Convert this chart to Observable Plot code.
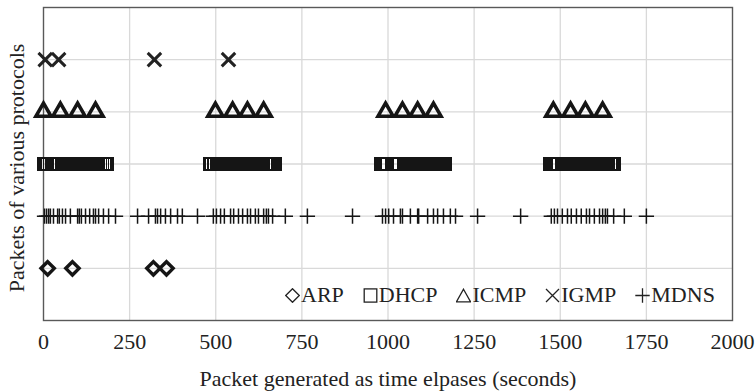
<!DOCTYPE html>
<html>
<head>
<meta charset="utf-8">
<script src="https://cdn.jsdelivr.net/npm/d3@7"></script>
<script src="https://cdn.jsdelivr.net/npm/@observablehq/plot@0.6"></script>
<style>
  html, body { margin: 0; padding: 0; background: #fff; }
  #wrap { position: relative; width: 756px; height: 391px; font-family: "Liberation Serif", "Times New Roman", serif; color: #222; }
  #legend { position: absolute; left: 285px; top: 284px; display: flex; gap: 19px; font-size: 22px; line-height: 22px; white-space: nowrap; }
  #legend .item { display: inline-flex; align-items: baseline; }
  #legend svg { vertical-align: baseline; margin-right: 1px; position: relative; top: 1px; }
</style>
</head>
<body>
<div id="wrap"><div id="legend"></div></div>
<script>
// ---- data ----
const protocols = ["ARP", "DHCP", "ICMP", "IGMP", "MDNS"];     // legend order
const rowOrder = ["ARP", "MDNS", "DHCP", "ICMP", "IGMP"];      // bottom to top
const xTicks = [0, 250, 500, 750, 1000, 1250, 1500, 1750, 2000];
const xTitle = "Packet generated as time elpases (seconds)";
const yTitle = "Packets of various protocols";

const arpTimes = [12, 84, 319, 357];
const igmpTimes = [5, 44, 322, 537];
const icmpTimes = [0, 49, 99, 151, 499, 549, 592, 639, 993, 1042, 1086, 1132, 1480, 1530, 1573, 1623];
const dhcpTimes = [
  0, 3, 8, 12, 17, 23, 26, 30, 35, 39, 44, 47, 52, 57, 60, 65, 69, 74, 78, 84, 88, 92, 97, 101, 106, 111, 114, 119, 124, 128, 133, 138, 141, 146, 150, 156, 160, 165, 171, 177, 182, 186,
  484, 488, 493, 497, 502, 507, 511, 516, 520, 525, 530, 533, 538, 543, 547, 552, 557, 561, 565, 570, 575, 580, 584, 589, 593, 598, 602, 607, 612, 616, 620, 625, 630, 634, 639, 644, 648, 653, 658, 663, 668, 672,
  980, 983, 988, 993, 997, 1011, 1015, 1020, 1025, 1029, 1033, 1047, 1052, 1056, 1061, 1066, 1070, 1075, 1079, 1084, 1088, 1093, 1098, 1102, 1106, 1111, 1116, 1120, 1125, 1129, 1134, 1139, 1143, 1148, 1152, 1157, 1162, 1166,
  1470, 1474, 1479, 1483, 1488, 1493, 1506, 1511, 1516, 1520, 1524, 1529, 1534, 1538, 1543, 1547, 1552, 1557, 1561, 1566, 1570, 1575, 1579, 1584, 1589, 1593, 1597, 1602, 1607, 1611, 1616, 1620, 1625, 1630, 1634, 1639, 1648, 1652, 1656
];
const mdnsTimes = [
  3, 9, 15, 20, 29, 41, 46, 55, 64, 78, 99, 104, 110, 122, 134, 145, 151, 160, 174, 189, 209,
  273, 305, 325, 331, 340, 354, 369, 389, 403, 447,
  493, 502, 514, 525, 543, 552, 566, 578, 592, 601, 615, 624, 639, 647, 653, 665, 702, 766, 897,
  984, 993, 1002, 1016, 1036, 1042, 1065, 1086, 1089, 1115, 1132, 1144, 1161, 1181, 1196, 1260, 1385,
  1474, 1483, 1492, 1506, 1521, 1532, 1547, 1561, 1576, 1585, 1599, 1614, 1623, 1631, 1637, 1655, 1686, 1750
];

// ---- build ----
const rowY = p => rowOrder.indexOf(p) + 1;
const rows = (times, p) => times.map(t => ({t, p, y: rowY(p)}));
const ink = "#151515";

const chart = Plot.plot({
  width: 756,
  height: 391,
  marginLeft: 43,
  marginRight: 24,
  marginTop: 7,
  marginBottom: 71,
  x: {domain: [0, 2000]},
  y: {domain: [0, 6], axis: null},
  style: {fontFamily: "'Liberation Serif', 'Times New Roman', serif", background: "#fff", color: "#222"},
  marks: [
    Plot.gridX(xTicks.slice(1, -1), {stroke: "#d9d9d9", strokeOpacity: 1, strokeWidth: 1.3}),
    Plot.gridY(rowOrder.map(rowY), {stroke: "#d9d9d9", strokeOpacity: 1, strokeWidth: 1.3}),
    Plot.frame({stroke: "#595959", strokeWidth: 1.4}),
    Plot.axisX(xTicks, {tickSize: 0, tickPadding: 13, fontSize: 22, label: null, tickFormat: d => String(d)}),
    Plot.dot(rows(dhcpTimes, "DHCP"), {x: "t", y: "y", symbol: "square", r: 6.8, stroke: ink, strokeWidth: 1.6, fill: "none", shapeRendering: "crispEdges"}),
    Plot.dot(rows(mdnsTimes, "MDNS"), {x: "t", y: "y", symbol: "plus", r: 5, stroke: ink, strokeWidth: 1.5}),
    Plot.dot(rows(icmpTimes, "ICMP"), {x: "t", y: "y", symbol: "triangle", r: 5.6, stroke: ink, strokeWidth: 3.6, fill: "none", strokeLinejoin: "miter"}),
    Plot.dot(rows(igmpTimes, "IGMP"), {x: "t", y: "y", symbol: "times", r: 6.2, stroke: "#222", strokeWidth: 3}),
    Plot.dot(rows(arpTimes, "ARP"), {x: "t", y: "y", symbol: "diamond2", r: 6, stroke: ink, strokeWidth: 3.4, fill: "none"}),
    Plot.text([xTitle], {frameAnchor: "bottom", dy: 58, fontSize: 22, lineAnchor: "middle", fill: "#222"}),
    Plot.text([yTitle], {frameAnchor: "left", textAnchor: "middle", dx: -27, dy: 4, rotate: -90, fontSize: 22, fill: "#222"})
  ]
});
document.getElementById("wrap").prepend(chart);

// ---- legend ----
const legendShapes = {
  ARP: '<polygon points="0,-6.8 6.8,0 0,6.8 -6.8,0"/>',
  DHCP: '<rect x="-6.3" y="-6.6" width="12.6" height="13.2"/>',
  ICMP: '<polygon points="0,-6.3 7,6.3 -7,6.3"/>',
  IGMP: '<path d="M-6.5,-6.5L6.5,6.5M-6.5,6.5L6.5,-6.5"/>',
  MDNS: '<path d="M-7.2,0H7.2M0,-7.2V7.2"/>'
};
const legend = document.getElementById("legend");
protocols.forEach(p => {
  const item = document.createElement("span");
  item.className = "item";
  item.innerHTML = `<svg width="15" height="15" viewBox="-7.5 -7.5 15 15"><g fill="none" stroke="#222" stroke-width="1.3">${legendShapes[p]}</g></svg>${p}`;
  legend.appendChild(item);
});
</script>
</body>
</html>
